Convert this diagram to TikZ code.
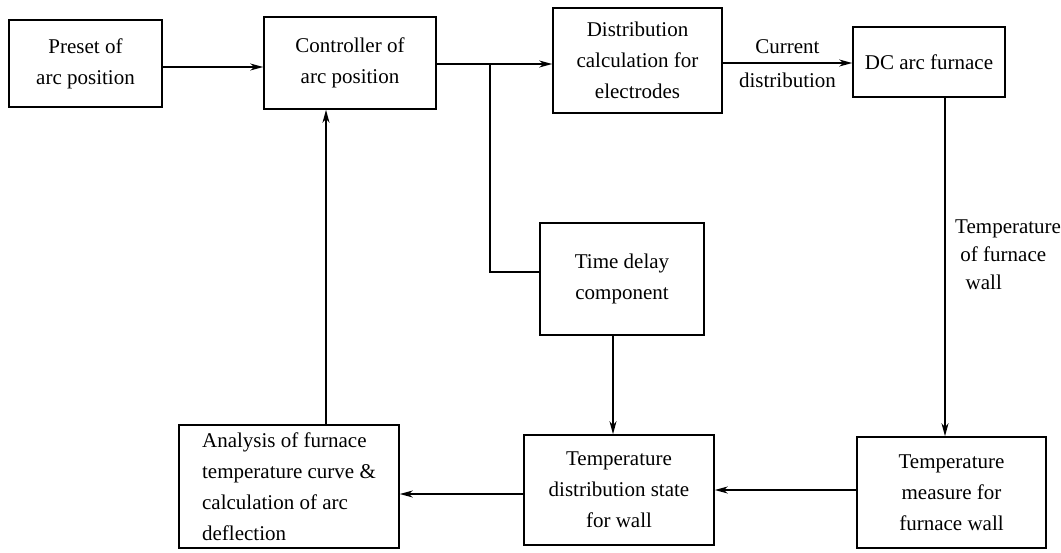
\documentclass[tikz,border=0pt]{standalone}
\usepackage{fontspec}
\setmainfont{Liberation Serif}
\newfontfamily\tnr{Liberation Serif}
\usetikzlibrary{arrows.meta}
\begin{document}
\begin{tikzpicture}[x=1pt,y=-1pt,
  blk/.style={draw,line width=1.6pt,minimum width=#1,align=center,inner sep=0pt,font=\tnr\fontsize{21}{31}\selectfont},
  conn/.style={line width=1.3pt},
  arr/.style={line width=1.3pt,-{Stealth[length=13pt,width=7pt,inset=4pt]}},
  lbl/.style={font=\tnr\fontsize{21}{31}\selectfont,inner sep=0pt}]
\useasboundingbox (0,0) rectangle (1061,552);
\node[blk=153pt,minimum height=87pt] (b1) at (85.5,63.5) {Preset of\\arc position};
\node[blk=172pt,minimum height=92pt] (b2) at (350,63) {Controller of\\arc position};
\node[blk=169pt,minimum height=105pt] (b3) at (637.5,60.5) {Distribution\\calculation for\\electrodes};
\node[blk=152pt,minimum height=70pt] (b4) at (929,62) {DC arc furnace};
\node[blk=164pt,minimum height=112pt] (b5) at (622,279) {Time delay\\component};
\node[blk=189pt,minimum height=111pt] (b6) at (951.5,492.5) {Temperature\\measure for\\furnace wall};
\node[blk=190pt,minimum height=110pt] (b7) at (619,490) {Temperature\\distribution state\\for wall};
\node[blk=220pt,minimum height=123pt,align=left] (b8) at (289,486.5) {Analysis of furnace\\temperature curve \&\\calculation of arc\\deflection};
\coordinate (br) at (490,64);
\coordinate (brd) at (490,272);
\draw[arr] (b1.east |- 0,67) -- (b2.west |- 0,67);
\draw[arr] (b2.east |- br) -- (b3.west |- br);
\draw[conn] (br) -- (brd) -- (b5.west |- brd);
\draw[arr] (b3.east |- 0,63) -- (b4.west |- 0,63)
  node[lbl,midway,above=9pt] {Current}
  node[lbl,midway,below=9pt] {distribution};
\draw[arr] (b4.south -| 945,0) -- (b6.north -| 945,0);
\node[lbl,align=left,anchor=north west,font=\tnr\fontsize{21}{28}\selectfont] (tl) at (955,220) {Temperature\\\ of furnace\\\ \ wall};
\draw[arr] (b5.south -| 613,0) -- (b7.north -| 613,0);
\draw[arr] (b6.west |- 0,490) -- (b7.east |- 0,490);
\draw[arr] (b7.west |- 0,494) -- (b8.east |- 0,494);
\draw[arr] (b8.north -| 326,0) -- (b2.south -| 326,0);
\end{tikzpicture}
\end{document}
